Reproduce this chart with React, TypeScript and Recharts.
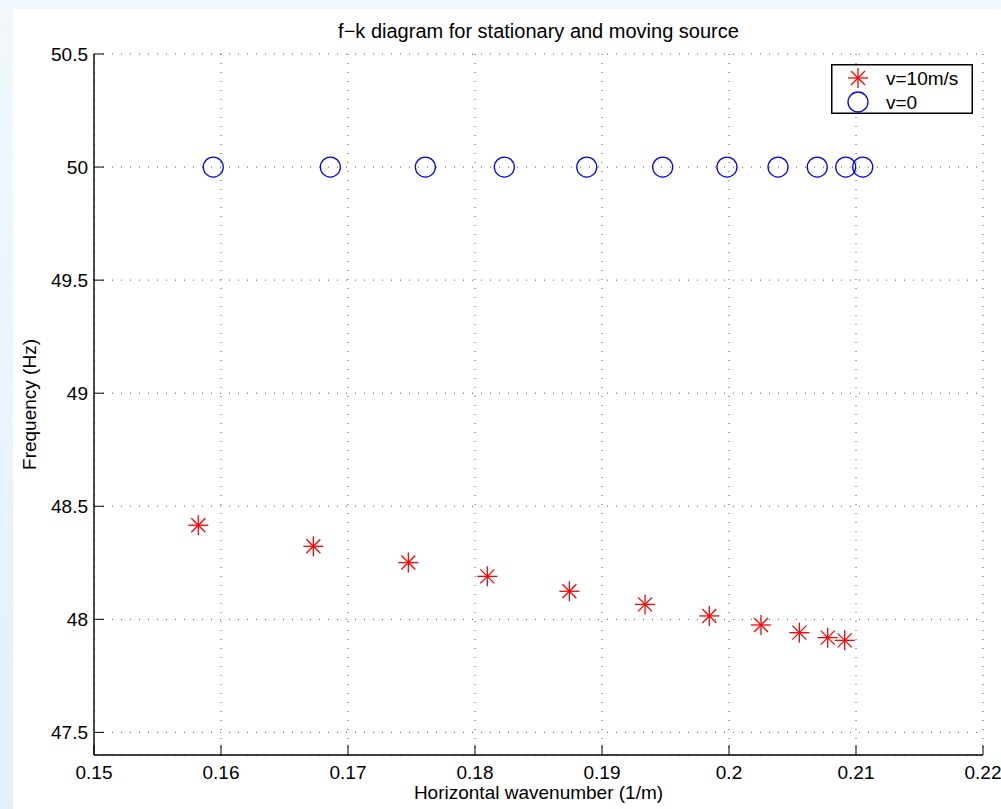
import { ScatterChart, Scatter, XAxis, YAxis, CartesianGrid, Legend } from 'recharts';

// horizontal wavenumber (1/m) and frequency (Hz)
const movingK = [0.15821, 0.16727, 0.17475, 0.18097, 0.18743, 0.19339, 0.19845, 0.20252, 0.20554, 0.20777, 0.20911];
const movingF = [48.416, 48.323, 48.251, 48.19, 48.124, 48.066, 48.015, 47.975, 47.941, 47.919, 47.907];
const stationaryK = [0.15939, 0.16861, 0.17609, 0.18231, 0.1888, 0.19478, 0.19984, 0.20386, 0.20695, 0.20919, 0.21053];
const stationaryF = [50, 50, 50, 50, 50, 50, 50, 50, 50, 50, 50];

const xTicks = [0.15, 0.16, 0.17, 0.18, 0.19, 0.2, 0.21, 0.22];
const yTicks = [47.5, 48, 48.5, 49, 49.5, 50, 50.5];

const FONT = '"Liberation Sans", Arial, Helvetica, sans-serif';
const TICK_LEN = 10;

const movingData = movingK.map((k, i) => ({ k, f: movingF[i] }));
const stationaryData = stationaryK.map((k, i) => ({ k, f: stationaryF[i] }));

const fmtX = (v: number) => String(+v.toFixed(2));
const fmtY = (v: number) => String(+v.toFixed(1));

function BottomTick({ x, y, payload }: any) {
  return (
    <g>
      <line x1={x} x2={x} y1={y} y2={y - TICK_LEN} stroke="#000" />
      <text x={x} y={y + 24} textAnchor="middle" fontSize={19} fontFamily={FONT} fill="#000">
        {fmtX(payload.value)}
      </text>
    </g>
  );
}

function TopTick({ x, y }: any) {
  return <line x1={x} x2={x} y1={y} y2={y + TICK_LEN} stroke="#000" />;
}

function LeftTick({ x, y, payload }: any) {
  return (
    <g>
      <line x1={x} x2={x + TICK_LEN} y1={y} y2={y} stroke="#000" />
      <text x={x - 6} y={y + 7} textAnchor="end" fontSize={19} fontFamily={FONT} fill="#000">
        {fmtY(payload.value)}
      </text>
    </g>
  );
}

function RightTick({ x, y }: any) {
  return <line x1={x} x2={x - TICK_LEN} y1={y} y2={y} stroke="#000" />;
}

function Asterisk({ cx, cy }: any) {
  const d = 7;
  return (
    <g stroke="#ff0000" strokeWidth={1.3}>
      <line x1={cx - 10} x2={cx + 10} y1={cy} y2={cy} />
      <line x1={cx} x2={cx} y1={cy - 10} y2={cy + 10} />
      <line x1={cx - d} x2={cx + d} y1={cy - d} y2={cy + d} />
      <line x1={cx - d} x2={cx + d} y1={cy + d} y2={cy - d} />
    </g>
  );
}

function Ring({ cx, cy }: any) {
  return <circle cx={cx} cy={cy} r={10} fill="none" stroke="#0000ff" strokeWidth={1.3} />;
}

function LegendBox() {
  return (
    <svg width={142} height={50} style={{ display: 'block' }}>
      <rect x={0.75} y={0.75} width={140.5} height={48.5} fill="#fff" stroke="#000" strokeWidth={1.5} />
      <Asterisk cx={27} cy={14} />
      <text x={55} y={21} fontSize={19} fontFamily={FONT} fill="#000">v=10m/s</text>
      <Ring cx={27} cy={38} />
      <text x={55} y={45} fontSize={19} fontFamily={FONT} fill="#000">v=0</text>
    </svg>
  );
}

export default function App() {
  return (
    <div
      style={{
        position: 'fixed',
        inset: 0,
        background: 'linear-gradient(to bottom, #f0f8fd, #e2f0fb)',
        fontFamily: FONT,
      }}
    >
      <div style={{ position: 'absolute', left: 13, top: 9, width: 988, height: 800, background: '#fff' }}>
        <div
          style={{
            position: 'absolute',
            left: 81,
            width: 889,
            top: 11,
            textAlign: 'center',
            fontSize: 20,
            color: '#000',
            whiteSpace: 'nowrap',
          }}
        >
          f−k diagram for stationary and moving source
        </div>
        <ScatterChart width={988} height={800} margin={{ top: 45, right: 18, left: 0, bottom: 0 }}>
          <CartesianGrid stroke="#555" strokeDasharray="1 8" />
          <XAxis
            type="number"
            dataKey="k"
            domain={[0.15, 0.22]}
            ticks={xTicks}
            height={54}
            tickSize={0}
            tickMargin={0}
            tick={<BottomTick />}
            axisLine={{ stroke: '#000', strokeWidth: 1.4 }}
            label={{
              value: 'Horizontal wavenumber (1/m)',
              position: 'insideBottom',
              offset: 10,
              fontSize: 19,
              fontFamily: FONT,
              fill: '#000',
            }}
          />
          <XAxis
            xAxisId="top"
            orientation="top"
            type="number"
            domain={[0.15, 0.22]}
            ticks={xTicks}
            height={0}
            tickSize={0}
            tickMargin={0}
            tick={<TopTick />}
            axisLine={{ stroke: '#000', strokeWidth: 1.4 }}
          />
          <YAxis
            type="number"
            dataKey="f"
            domain={[47.4, 50.5]}
            ticks={yTicks}
            width={81}
            tickSize={0}
            tickMargin={0}
            tick={<LeftTick />}
            axisLine={{ stroke: '#000', strokeWidth: 1.4 }}
            label={{
              value: 'Frequency (Hz)',
              angle: -90,
              position: 'insideLeft',
              offset: 16,
              fontSize: 19,
              fontFamily: FONT,
              fill: '#000',
              style: { textAnchor: 'middle' },
            }}
          />
          <YAxis
            yAxisId="right"
            orientation="right"
            type="number"
            domain={[47.4, 50.5]}
            ticks={yTicks}
            width={0}
            tickSize={0}
            tickMargin={0}
            tick={<RightTick />}
            axisLine={{ stroke: '#000', strokeWidth: 1.4 }}
          />
          <Legend
            layout="horizontal"
            verticalAlign="middle"
            align="center"
            wrapperStyle={{ left: 818, top: 55, width: 142, height: 50 }}
            content={() => <LegendBox />}
          />
          <Scatter name="v=10m/s" data={movingData} shape={<Asterisk />} isAnimationActive={false} />
          <Scatter name="v=0" data={stationaryData} shape={<Ring />} isAnimationActive={false} />
        </ScatterChart>
      </div>
    </div>
  );
}
